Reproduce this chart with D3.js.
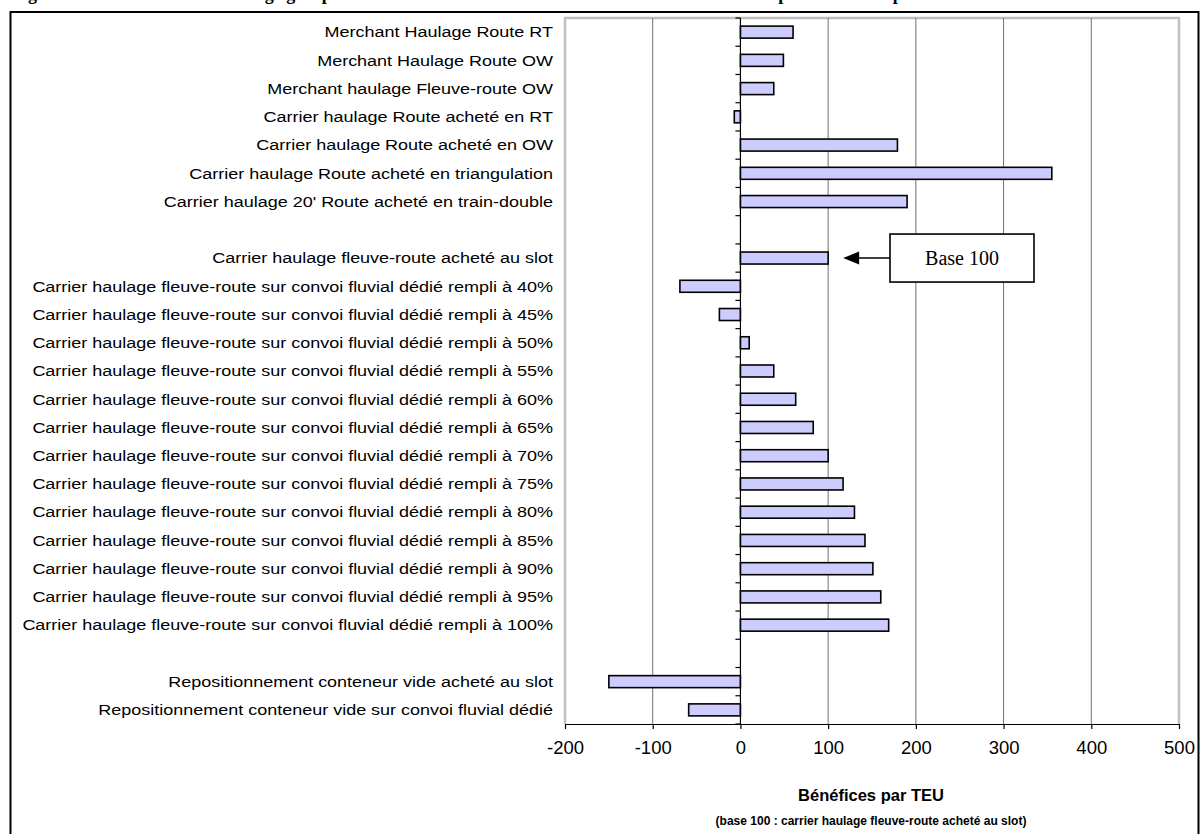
<!DOCTYPE html>
<html><head><meta charset="utf-8">
<script src="https://cdn.jsdelivr.net/npm/d3@7"></script>
<style>body{margin:0;background:#fff}svg{display:block}</style>
</head><body>
<svg id="c" width="1200" height="834"></svg>
<script>
// ---- data ----
const categories = [
  "Merchant Haulage Route RT",
  "Merchant Haulage Route OW",
  "Merchant haulage Fleuve-route OW",
  "Carrier haulage Route acheté en RT",
  "Carrier haulage Route acheté en OW",
  "Carrier haulage Route acheté en triangulation",
  "Carrier haulage 20' Route acheté en train-double",
  null,
  "Carrier haulage fleuve-route acheté au slot",
  "Carrier haulage fleuve-route sur convoi fluvial dédié rempli à 40%",
  "Carrier haulage fleuve-route sur convoi fluvial dédié rempli à 45%",
  "Carrier haulage fleuve-route sur convoi fluvial dédié rempli à 50%",
  "Carrier haulage fleuve-route sur convoi fluvial dédié rempli à 55%",
  "Carrier haulage fleuve-route sur convoi fluvial dédié rempli à 60%",
  "Carrier haulage fleuve-route sur convoi fluvial dédié rempli à 65%",
  "Carrier haulage fleuve-route sur convoi fluvial dédié rempli à 70%",
  "Carrier haulage fleuve-route sur convoi fluvial dédié rempli à 75%",
  "Carrier haulage fleuve-route sur convoi fluvial dédié rempli à 80%",
  "Carrier haulage fleuve-route sur convoi fluvial dédié rempli à 85%",
  "Carrier haulage fleuve-route sur convoi fluvial dédié rempli à 90%",
  "Carrier haulage fleuve-route sur convoi fluvial dédié rempli à 95%",
  "Carrier haulage fleuve-route sur convoi fluvial dédié rempli à 100%",
  null,
  "Repositionnement conteneur vide acheté au slot",
  "Repositionnement conteneur vide sur convoi fluvial dédié"
];
const values = [60, 49, 38, -7, 179, 355, 190, null, 100, -69, -24, 10, 38, 63, 83, 100, 117, 130, 142, 151, 160, 169, null, -150, -59];
const xTicks = [-200, -100, 0, 100, 200, 300, 400, 500];
const xDomain = [-200, 500];
const baseValue = 100;
const baseLabel = "Base 100";
const xTitle = "Bénéfices par TEU";
const xSubtitle = "(base 100 : carrier haulage fleuve-route acheté au slot)";
const figTitle = "Figure 6 : Les bénéfices du haulage groupé et le mode de traction routière et fluviale sur la Seine du port de Rouen pour les conteneurs à destination de Paris";

// ---- drawing ----
const svg = d3.select("#c");
const L = 565, R = 1179, T = 18, B = 724;
const x = d3.scaleLinear().domain(xDomain).range([L, R]);
const idx = categories.map((d, i) => i);
const y = d3.scaleBand().domain(idx).range([T, B]).paddingInner(0.575).paddingOuter(0.2875);
const step = y.step();

// figure title, cut by the top edge as in the reference (only descenders visible)
svg.append("text").attr("x", 12).attr("y", 0)
  .attr("font-family", "Liberation Serif, Times New Roman, serif").attr("font-weight", "bold")
  .attr("font-size", 18).attr("fill", "#000").text(figTitle);

// outer frame
svg.append("rect").attr("x", 10.5).attr("y", 12).attr("width", 1188).attr("height", 840)
  .attr("fill", "#fff").attr("stroke", "#000").attr("stroke-width", 2);

// plot area border
svg.append("path").attr("d", `M${L},${B}V${T}H${R}V${B}`)
  .attr("fill", "none").attr("stroke", "#c0c0c0").attr("stroke-width", 2.5);

// gridlines
svg.append("g").selectAll("line").data(xTicks.filter(t => t !== xDomain[0] && t !== xDomain[1] && t !== 0))
  .join("line").attr("x1", d => x(d)).attr("x2", d => x(d)).attr("y1", T).attr("y2", B)
  .attr("stroke", "#707070").attr("stroke-width", 1);

// bars
svg.append("g").selectAll("rect").data(values.map((v, i) => ({v, i})).filter(d => d.v !== null))
  .join("rect")
  .attr("x", d => x(Math.min(0, d.v)))
  .attr("width", d => Math.abs(x(d.v) - x(0)))
  .attr("y", d => y(d.i))
  .attr("height", y.bandwidth())
  .attr("fill", "#ccccff").attr("stroke", "#000").attr("stroke-width", 1.6);

// y axis (at zero) with ticks between categories
const x0 = x(0);
svg.append("line").attr("x1", x0).attr("x2", x0).attr("y1", T).attr("y2", B)
  .attr("stroke", "#000").attr("stroke-width", 1.2);
const bounds = d3.range(categories.length + 1).map(i => T + i * step);
svg.append("g").selectAll("line").data(bounds).join("line")
  .attr("x1", x0 - 5).attr("x2", x0).attr("y1", d => d).attr("y2", d => d)
  .attr("stroke", "#000").attr("stroke-width", 1.2);

// category labels (slightly stretched horizontally like the reference)
svg.append("g").selectAll("text").data(categories.map((c, i) => ({c, i})).filter(d => d.c))
  .join("text")
  .attr("transform", d => `translate(553,${y(d.i) + y.bandwidth() / 2}) scale(1.2,1)`)
  .attr("dy", "0.35em").attr("text-anchor", "end")
  .attr("font-family", "Liberation Sans, Arial, sans-serif").attr("font-size", 15)
  .attr("fill", "#000").text(d => d.c);

// x axis
const xAxis = d3.axisBottom(x).tickValues(xTicks).tickSize(5).tickSizeOuter(0).tickFormat(d3.format("d"));
const gx = svg.append("g").attr("transform", `translate(0,${B})`).call(xAxis);
gx.select(".domain").attr("stroke", "#000").attr("stroke-width", 1.2);
gx.selectAll(".tick line").attr("stroke", "#000").attr("stroke-width", 1.2);
gx.selectAll(".tick text").attr("font-family", "Liberation Sans, Arial, sans-serif")
  .attr("font-size", 18.5).attr("fill", "#000").attr("y", 17).attr("dy", "0.71em")
  .text(d => d < 0 ? "-" + Math.abs(d) : d);

// axis titles
const cx = 871;
svg.append("text").attr("x", cx).attr("y", 801).attr("text-anchor", "middle")
  .attr("font-family", "Liberation Sans, Arial, sans-serif").attr("font-weight", "bold")
  .attr("font-size", 16.5).attr("fill", "#000").text(xTitle);
svg.append("text").attr("x", cx).attr("y", 825).attr("text-anchor", "middle")
  .attr("font-family", "Liberation Sans, Arial, sans-serif").attr("font-weight", "bold")
  .attr("font-size", 12).attr("fill", "#000").text(xSubtitle);

// annotation
const baseIdx = values.indexOf(baseValue);
const ay = y(baseIdx) + y.bandwidth() / 2;
const bx = 890, bw = 144, bh = 48;
svg.append("rect").attr("x", bx).attr("y", ay - bh / 2).attr("width", bw).attr("height", bh)
  .attr("fill", "#fff").attr("stroke", "#000").attr("stroke-width", 1.6);
svg.append("text").attr("x", bx + bw / 2).attr("y", ay).attr("dy", "0.35em").attr("text-anchor", "middle")
  .attr("font-family", "Liberation Serif, Times New Roman, serif").attr("font-size", 20)
  .attr("fill", "#000").text(baseLabel);
const tip = x(baseValue) + 15;
svg.append("line").attr("x1", bx).attr("x2", tip + 14).attr("y1", ay).attr("y2", ay)
  .attr("stroke", "#000").attr("stroke-width", 1.4);
svg.append("path").attr("d", `M${tip},${ay}L${tip + 16},${ay - 6.5}L${tip + 16},${ay + 6.5}Z`).attr("fill", "#000");
</script>
</body></html>
